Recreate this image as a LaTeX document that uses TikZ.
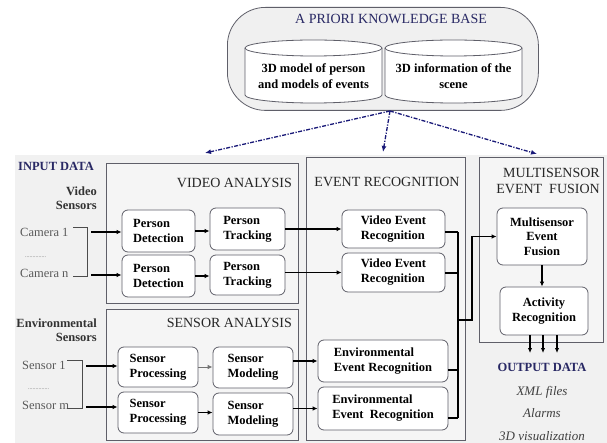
\documentclass[tikz,border=0pt]{standalone}
\usepackage{fontspec}
\setmainfont{Liberation Serif}
\usetikzlibrary{arrows.meta,calc}
\definecolor{navy}{RGB}{40,40,100}
\definecolor{dnavy}{RGB}{25,25,120}
\definecolor{edgec}{RGB}{95,95,105}
\definecolor{bgg}{RGB}{241,241,241}
\definecolor{pang}{RGB}{245,245,245}
\definecolor{kbg}{RGB}{240,240,240}
\begin{document}
\begin{tikzpicture}[x=1pt,y=-1pt,
 box/.style={draw=edgec, line width=0.8pt, fill=white, rounded corners=6pt, align=left, inner sep=0pt, font=\fontsize{12.5}{15}\selectfont\bfseries},
 cbox/.style={box, align=center, font=\fontsize{12.5}{14.5}\selectfont\bfseries},
 panel/.style={draw=edgec, line width=0.9pt, fill=pang, inner sep=0pt, anchor=north west},
 ttl/.style={font=\fontsize{14}{15.5}\selectfont, text=black!85, inner sep=0pt},
 hdr/.style={font=\fontsize{12.5}{14}\selectfont\bfseries, text=navy, inner sep=0pt},
 sub/.style={font=\fontsize{12.5}{14}\selectfont\bfseries, text=black!80, inner sep=0pt, align=right},
 lbl/.style={font=\fontsize{12.5}{14}\selectfont, text=black!65, inner sep=0pt},
 dots/.style={font=\fontsize{6}{7}\selectfont, text=black!55, inner sep=0pt},
 outt/.style={font=\fontsize{13}{14}\selectfont\itshape, text=black!75, inner sep=0pt},
 cyltxt/.style={font=\fontsize{12.5}{16}\selectfont\bfseries, align=center, inner sep=0pt},
 conn/.style={line width=1.1pt, -{Latex[length=5pt,width=4.5pt]}},
 wire/.style={line width=1.1pt},
 brk/.style={line width=0.8pt, black!70},
 kbarrow/.style={dnavy, line width=1.3pt, dash pattern=on 4pt off 1.5pt on 1.2pt off 1.5pt, -{Latex[length=6pt,width=5pt]}}
]
\useasboundingbox (0,0) rectangle (607,443);
\fill[white] (0,0) rectangle (607,443);
\fill[bgg] (15,155) rectangle (607,443);

% knowledge base
\node[draw=edgec, line width=0.8pt, fill=kbg, rounded corners=38pt, minimum width=311pt, minimum height=103pt, anchor=north west, inner sep=0pt] (kb) at (227,7) {};
\node[font=\fontsize{14}{15}\selectfont, text=navy, inner sep=0pt] (kbt) at (391,19) {A PRIORI KNOWLEDGE BASE};
\draw[edgec, line width=0.8pt, fill=white] (245,48) -- (245,95) arc[start angle=180,end angle=0,x radius=68.5,y radius=8] -- (382,48) arc[start angle=0,end angle=-180,x radius=68.5,y radius=8] -- cycle;
\draw[edgec, line width=0.8pt] (245,48) arc[start angle=180,end angle=0,x radius=68.5,y radius=8];
\draw[edgec, line width=0.8pt, fill=white] (385,48) -- (385,95) arc[start angle=180,end angle=0,x radius=68.5,y radius=8] -- (522,48) arc[start angle=0,end angle=-180,x radius=68.5,y radius=8] -- cycle;
\draw[edgec, line width=0.8pt] (385,48) arc[start angle=180,end angle=0,x radius=68.5,y radius=8];
\node[cyltxt] (cy1) at (313.5,76) {3D model of person\\and models of events};
\node[cyltxt] (cy2) at (453.5,76) {3D information of the\\scene};

% panels
\node[panel, minimum width=192pt, minimum height=140pt] (va) at (106,163) {};
\node[panel, minimum width=192pt, minimum height=131pt] (sa) at (106,309) {};
\node[panel, minimum width=159pt, minimum height=283pt] (er) at (306,157) {};
\node[panel, minimum width=124pt, minimum height=185pt] (ms) at (479,157) {};

\node[ttl, anchor=east] (vat) at (292,183) {VIDEO ANALYSIS};
\node[ttl, anchor=east] (sat) at (292,323) {SENSOR ANALYSIS};
\node[ttl] (ert) at (387,182) {EVENT RECOGNITION};
\node[ttl, anchor=east, align=right] (mst) at (600,181) {MULTISENSOR\\EVENT~ FUSION};

% knowledge base arrows
\coordinate (kbs) at (390,111);
\coordinate (tva) at (205,153);
\coordinate (ter) at (383,152);
\coordinate (tms) at (537,154);
\draw[kbarrow] (kbs) -- (tva);
\draw[kbarrow] (kbs) -- (ter);
\draw[kbarrow] (kbs) -- (tms);

% input data
\node[hdr, anchor=west] (ind) at (18,166) {INPUT DATA};
\node[sub, anchor=east] (vsen) at (97,198.5) {Video\\Sensors};
\node[lbl, anchor=west] (cam1) at (20,232) {Camera 1};
\node[dots, anchor=west] (camd) at (25,257) {..............};
\node[lbl, anchor=west] (camn) at (20,273) {Camera n};
\draw[brk] (73,227) -- (87,227) -- (87,276) -- (73,276);

\node[sub, anchor=east] (esen) at (97,330.5) {Environmental\\Sensors};
\node[lbl, anchor=west] (sen1) at (22,365) {Sensor 1};
\node[dots, anchor=west] (send) at (28,389) {..............};
\node[lbl, anchor=west] (senm) at (22,405) {Sensor m};
\draw[brk] (67,360) -- (82,360) -- (82,408) -- (67,408);

% video analysis boxes
\node[box, minimum width=73pt, minimum height=42pt] (pd1) at (158.5,231) {Person\\Detection};
\node[box, minimum width=73pt, minimum height=42pt] (pd2) at (158.5,276) {Person\\Detection};
\node[box, minimum width=75pt, minimum height=42pt] (pt1) at (247.5,229) {Person\\Tracking};
\node[box, minimum width=75pt, minimum height=40pt] (pt2) at (247.5,275) {Person\\Tracking};

% sensor analysis boxes
\node[box, minimum width=80pt, minimum height=40pt] (sp1) at (158,367) {Sensor\\Processing};
\node[box, minimum width=80pt, minimum height=41pt] (sp2) at (158,412.5) {Sensor\\Processing};
\node[box, minimum width=80pt, minimum height=41pt] (sm1) at (253,367.5) {Sensor\\Modeling};
\node[box, minimum width=80pt, minimum height=42pt] (sm2) at (253,414) {Sensor\\Modeling};

% event recognition boxes
\node[box, minimum width=103pt, minimum height=38pt] (ve1) at (393.5,229) {Video Event\\Recognition};
\node[box, minimum width=103pt, minimum height=39pt] (ve2) at (393.5,272.5) {Video Event\\Recognition};
\node[box, minimum width=130pt, minimum height=42pt] (ee1) at (383,361) {Environmental\\Event Recognition};
\node[box, minimum width=130pt, minimum height=43pt] (ee2) at (383,408.5) {Environmental\\Event~ Recognition};

% multisensor boxes
\node[cbox, minimum width=90pt, minimum height=57pt] (mef) at (542,236.5) {Multisensor\\Event\\Fusion};
\node[cbox, minimum width=88pt, minimum height=48pt] (ar) at (544,311) {Activity\\Recognition};

% output data
\node[hdr] (outd) at (542,367) {OUTPUT DATA};
\node[outt] (o1t) at (542,392) {XML files};
\node[outt] (o2t) at (542,413) {Alarms};
\node[outt] (o3t) at (542,436) {3D visualization};

% input arrows
\coordinate (ca1) at (91,232);
\coordinate (ca2) at (91,275);
\draw[conn] (ca1) -- (ca1 -| pd1.west);
\draw[conn] (ca2) -- (ca2 -| pd2.west);
\coordinate (sa1) at (86,366);
\coordinate (sa2) at (86,407);
\draw[conn] (sa1) -- (sa1 -| sp1.west);
\draw[conn] (sa2) -- (sa2 -| sp2.west);

% internal arrows
\draw[conn] (pd1.east) -- (pd1.east -| pt1.west);
\draw[conn] (pd2.east) -- (pd2.east -| pt2.west);
\draw[conn, black!55, line width=0.9pt] (sp1.east) -- (sp1.east -| sm1.west);
\draw[conn] (sp2.east) -- (sp2.east -| sm2.west);
\draw[conn] (pt1.east) -- (ve1.west);
\draw[conn] (pt2.east |- ve2.west) -- (ve2.west);
\draw[conn] (sm1.east |- ee1.west) -- (ee1.west);
\draw[conn] (sm2.east |- ee2.west) -- (ee2.west);

% bus
\coordinate (b1) at (458,232);
\coordinate (b2) at (458,273);
\coordinate (b3) at (458,370);
\coordinate (b4) at (458,418);
\coordinate (bj) at (458,320);
\coordinate (bk) at (472,320);
\draw[wire] (ve1.east |- b1) -- (b1);
\draw[wire] (ve2.east |- b2) -- (b2);
\draw[wire] (ee1.east |- b3) -- (b3);
\draw[wire] (ee2.east |- b4) -- (b4);
\draw[wire] (b1) -- (b4);
\draw[conn] (bj) -- (bk) -- (bk |- mef.west) -- (mef.west);

\draw[conn] (mef.south) -- (mef.south |- ar.north);
\coordinate (oa1) at (530,353);
\coordinate (oa2) at (543,353);
\coordinate (oa3) at (557,353);
\draw[conn] (oa1 |- ar.south) -- (oa1);
\draw[conn] (oa2 |- ar.south) -- (oa2);
\draw[conn] (oa3 |- ar.south) -- (oa3);
\end{tikzpicture}
\end{document}
